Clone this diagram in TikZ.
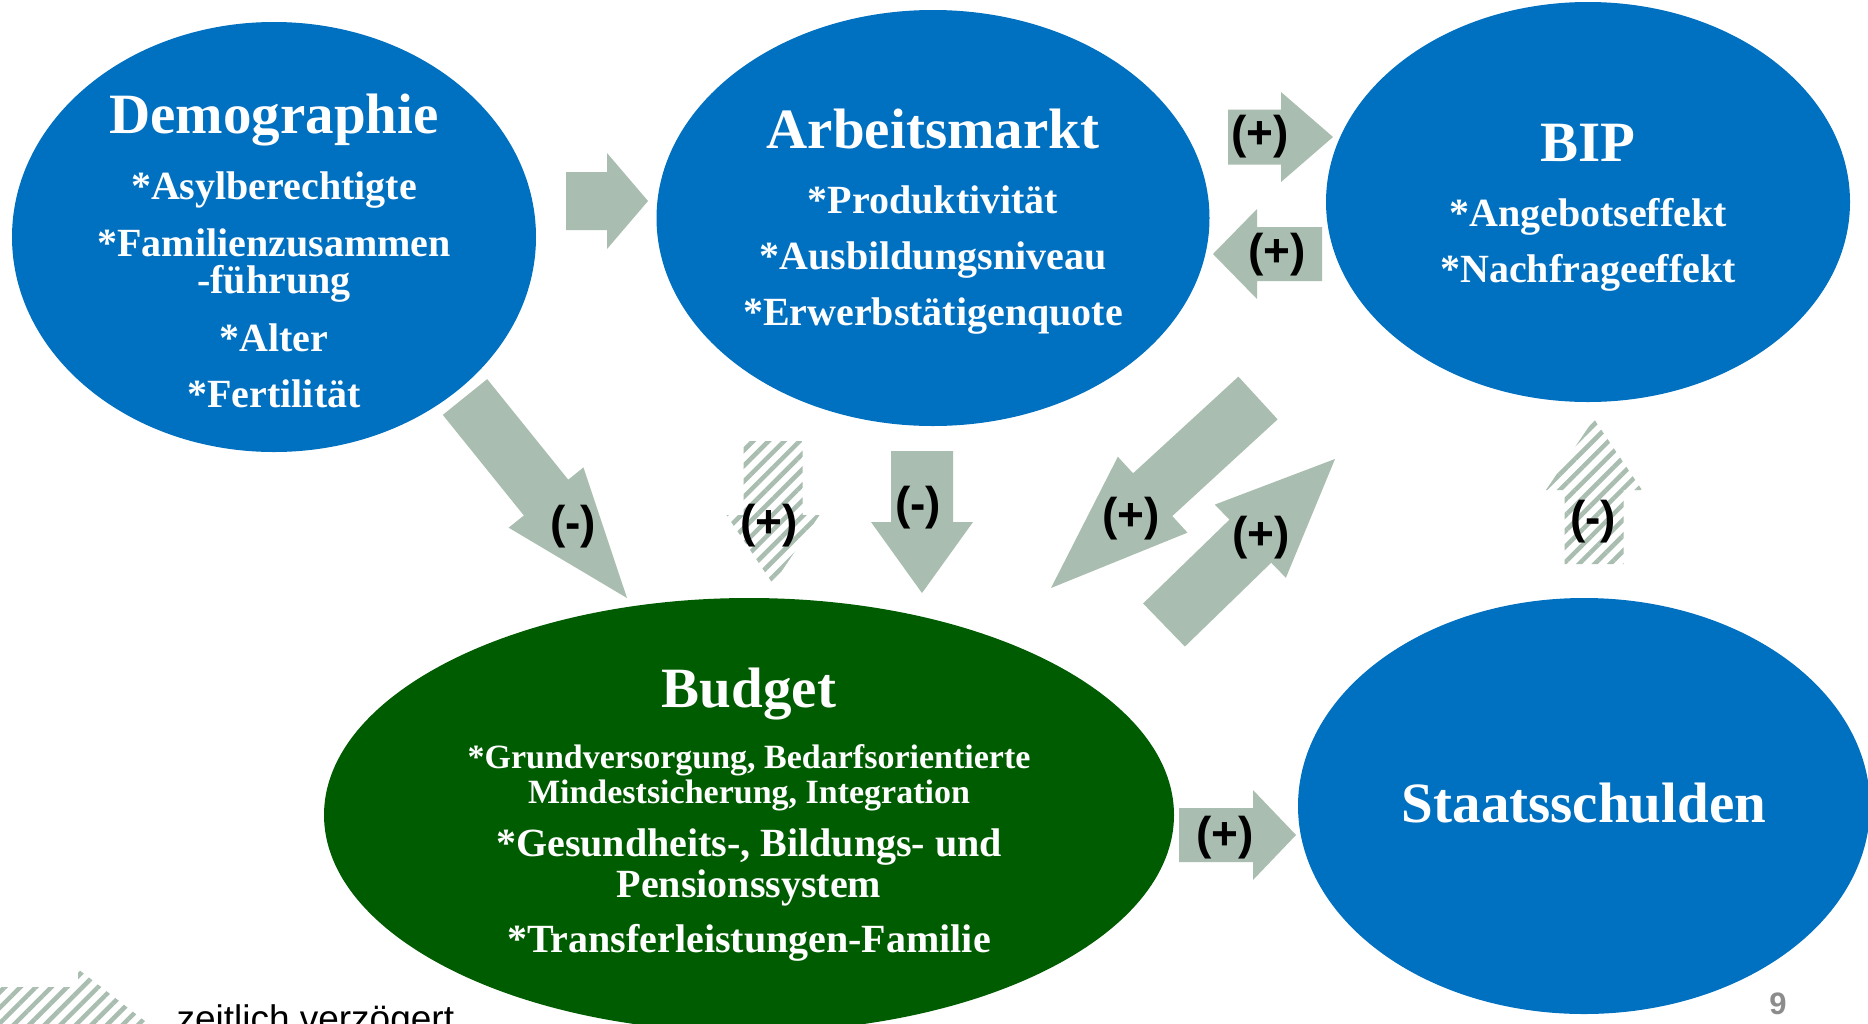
\documentclass[tikz,border=0pt]{standalone}
\usepackage{fontspec}
\setmainfont{Liberation Serif}
\newfontfamily\signfont{Liberation Sans}
\usetikzlibrary{shapes.geometric,calc,patterns.meta}

\definecolor{nodeblue}{RGB}{0,112,192}
\definecolor{budgetgreen}{RGB}{0,92,0}
\definecolor{arrowgray}{RGB}{169,189,176}
\definecolor{pagegray}{RGB}{140,140,140}

% block arrow: [style]{tail}{tip}{half shaft}{half head}{head length}
\newcommand{\blockarrow}[6][flow]{%
  \path ($(#3)!#6!(#2)$) coordinate (hb);
  \fill[#1] ($(#2)!#4!90:(#3)$) -- ($(hb)!#4!90:(#3)$) -- ($(hb)!#5!90:(#3)$)
    -- (#3) -- ($(hb)!#5!-90:(#3)$) -- ($(hb)!#4!-90:(#3)$) -- ($(#2)!#4!-90:(#3)$) -- cycle;
}

\tikzset{
    bubble/.style={ellipse, fill=nodeblue, inner sep=0pt},
    heading/.style={anchor=base, text=white, font=\bfseries\fontsize{57}{60}\selectfont},
    entry/.style={anchor=base, text=white, font=\bfseries\fontsize{40}{44}\selectfont},
    smallentry/.style={anchor=base, text=white, font=\bfseries\fontsize{34}{38}\selectfont},
    effect/.style={font=\signfont\bfseries\fontsize{46}{48}\selectfont},
    flow/.style={fill=arrowgray},
    delayed/.style={pattern={Lines[angle=45,distance=11pt,line width=4.5pt]}, pattern color=arrowgray},
}

\begin{document}
\begin{tikzpicture}[x=1pt, y=-1pt]
    \useasboundingbox (0,0) rectangle (1868,1023);
    \fill[white] (0,0) rectangle (1868,1023);

    % bubbles
    \node[bubble, minimum width=524pt, minimum height=430pt] (demo) at (274,237) {};
    \node[bubble, minimum width=553pt, minimum height=416pt] (arbeit) at (933,218) {};
    \node[bubble, minimum width=524pt, minimum height=400pt] (bip) at (1588,202) {};
    \node[bubble, fill=budgetgreen, minimum width=850pt, minimum height=434pt] (budget) at (749,815) {};
    \node[bubble, minimum width=572pt, minimum height=416pt] (schulden) at (1584,806) {};

    % texts
    \node[heading] (demoTitle) at (274,133) {Demographie};
    \node[entry] (demoA) at (274,199) {*Asylberechtigte};
    \node[entry] (demoB) at (274,256) {*Familienzusammen};
    \node[entry] (demoC) at (274,293) {-führung};
    \node[entry] (demoD) at (274,351) {*Alter};
    \node[entry] (demoE) at (274,407) {*Fertilität};

    \node[heading] (arbeitTitle) at (933,148) {Arbeitsmarkt};
    \node[entry] (arbeitA) at (933,213) {*Produktivität};
    \node[entry] (arbeitB) at (933,269) {*Ausbildungsniveau};
    \node[entry] (arbeitC) at (933,325) {*Erwerbstätigenquote};

    \node[heading] (bipTitle) at (1588,161) {BIP};
    \node[entry] (bipA) at (1588,226) {*Angebotseffekt};
    \node[entry] (bipB) at (1588,282) {*Nachfrageeffekt};

    \node[heading] (budgetTitle) at (749,707) {Budget};
    \node[smallentry] (budgetA) at (749,768) {*Grundversorgung, Bedarfsorientierte};
    \node[smallentry] (budgetB) at (749,803) {Mindestsicherung, Integration};
    \node[entry] (budgetC) at (749,856) {*Gesundheits-, Bildungs- und};
    \node[entry] (budgetD) at (749,897) {Pensionssystem};
    \node[entry] (budgetE) at (749,952) {*Transferleistungen-Familie};

    \node[heading] (schuldenTitle) at (1584,822) {Staatsschulden};

    % arrow ends
    \coordinate (demoArbTail) at (566,201);
    \coordinate (demoArbTip) at (648,201);
    \coordinate (arbBipTail) at (1228,137);
    \coordinate (arbBipTip) at (1333,137);
    \coordinate (bipArbTail) at (1322,254);
    \coordinate (bipArbTip) at (1213,254);
    \coordinate (demoBudTail) at (465,397);
    \coordinate (demoBudTip) at (627,598);
    \coordinate (arbBudLateTail) at (773,441);
    \coordinate (arbBudLateTip) at (773,584);
    \coordinate (arbBudTail) at (922,451);
    \coordinate (arbBudTip) at (922,593);
    \coordinate (bipBudTail) at (1258,398);
    \coordinate (bipBudTip) at (1051,588);
    \coordinate (budBipTail) at (1164,625);
    \coordinate (budBipTip) at (1335,459);
    \coordinate (schBipTail) at (1594,564);
    \coordinate (schBipTip) at (1594,419);
    \coordinate (budSchTail) at (1179,835);
    \coordinate (budSchTip) at (1296,835);
    \coordinate (legendTail) at (-5,1025);
    \coordinate (legendTip) at (150,1025);

    % arrows
    \blockarrow{demoArbTail}{demoArbTip}{29pt}{48pt}{41pt}
    \blockarrow{arbBipTail}{arbBipTip}{27.5pt}{45pt}{52pt}
    \blockarrow{bipArbTail}{bipArbTip}{27pt}{45pt}{44pt}
    \blockarrow{demoBudTail}{demoBudTip}{28.5pt}{48pt}{129pt}
    \blockarrow[delayed]{arbBudLateTail}{arbBudLateTip}{29.5pt}{46.5pt}{69pt}
    \blockarrow{arbBudTail}{arbBudTip}{31pt}{51pt}{71pt}
    \blockarrow{bipBudTail}{bipBudTip}{29pt}{51.5pt}{138pt}
    \blockarrow{budBipTail}{budBipTip}{30pt}{51pt}{118pt}
    \blockarrow[delayed]{schBipTail}{schBipTip}{29.5pt}{48pt}{71pt}
    \blockarrow{budSchTail}{budSchTip}{27pt}{45pt}{43pt}
    \blockarrow[delayed]{legendTail}{legendTip}{38pt}{56pt}{72pt}

    % signs
    \node[effect] (arbBipSign) at (1260,137) {(+)};
    \node[effect] (bipArbSign) at (1277,255) {(+)};
    \node[effect] (demoBudSign) at (573,527) {(-)};
    \node[effect] (arbBudLateSign) at (769,526) {(+)};
    \node[effect] (arbBudSign) at (918,508) {(-)};
    \node[effect] (bipBudSign) at (1131,519) {(+)};
    \node[effect] (budBipSign) at (1261,538) {(+)};
    \node[effect] (schBipSign) at (1593,522) {(-)};
    \node[effect] (budSchSign) at (1225,838) {(+)};

    \node[anchor=base west, font=\signfont\fontsize{37}{40}\selectfont] (legend) at (173,1031) {zeitlich verzögert};
    \node[text=pagegray, font=\signfont\bfseries\fontsize{31}{34}\selectfont] (pagenum) at (1778,1004) {9};
\end{tikzpicture}
\end{document}
